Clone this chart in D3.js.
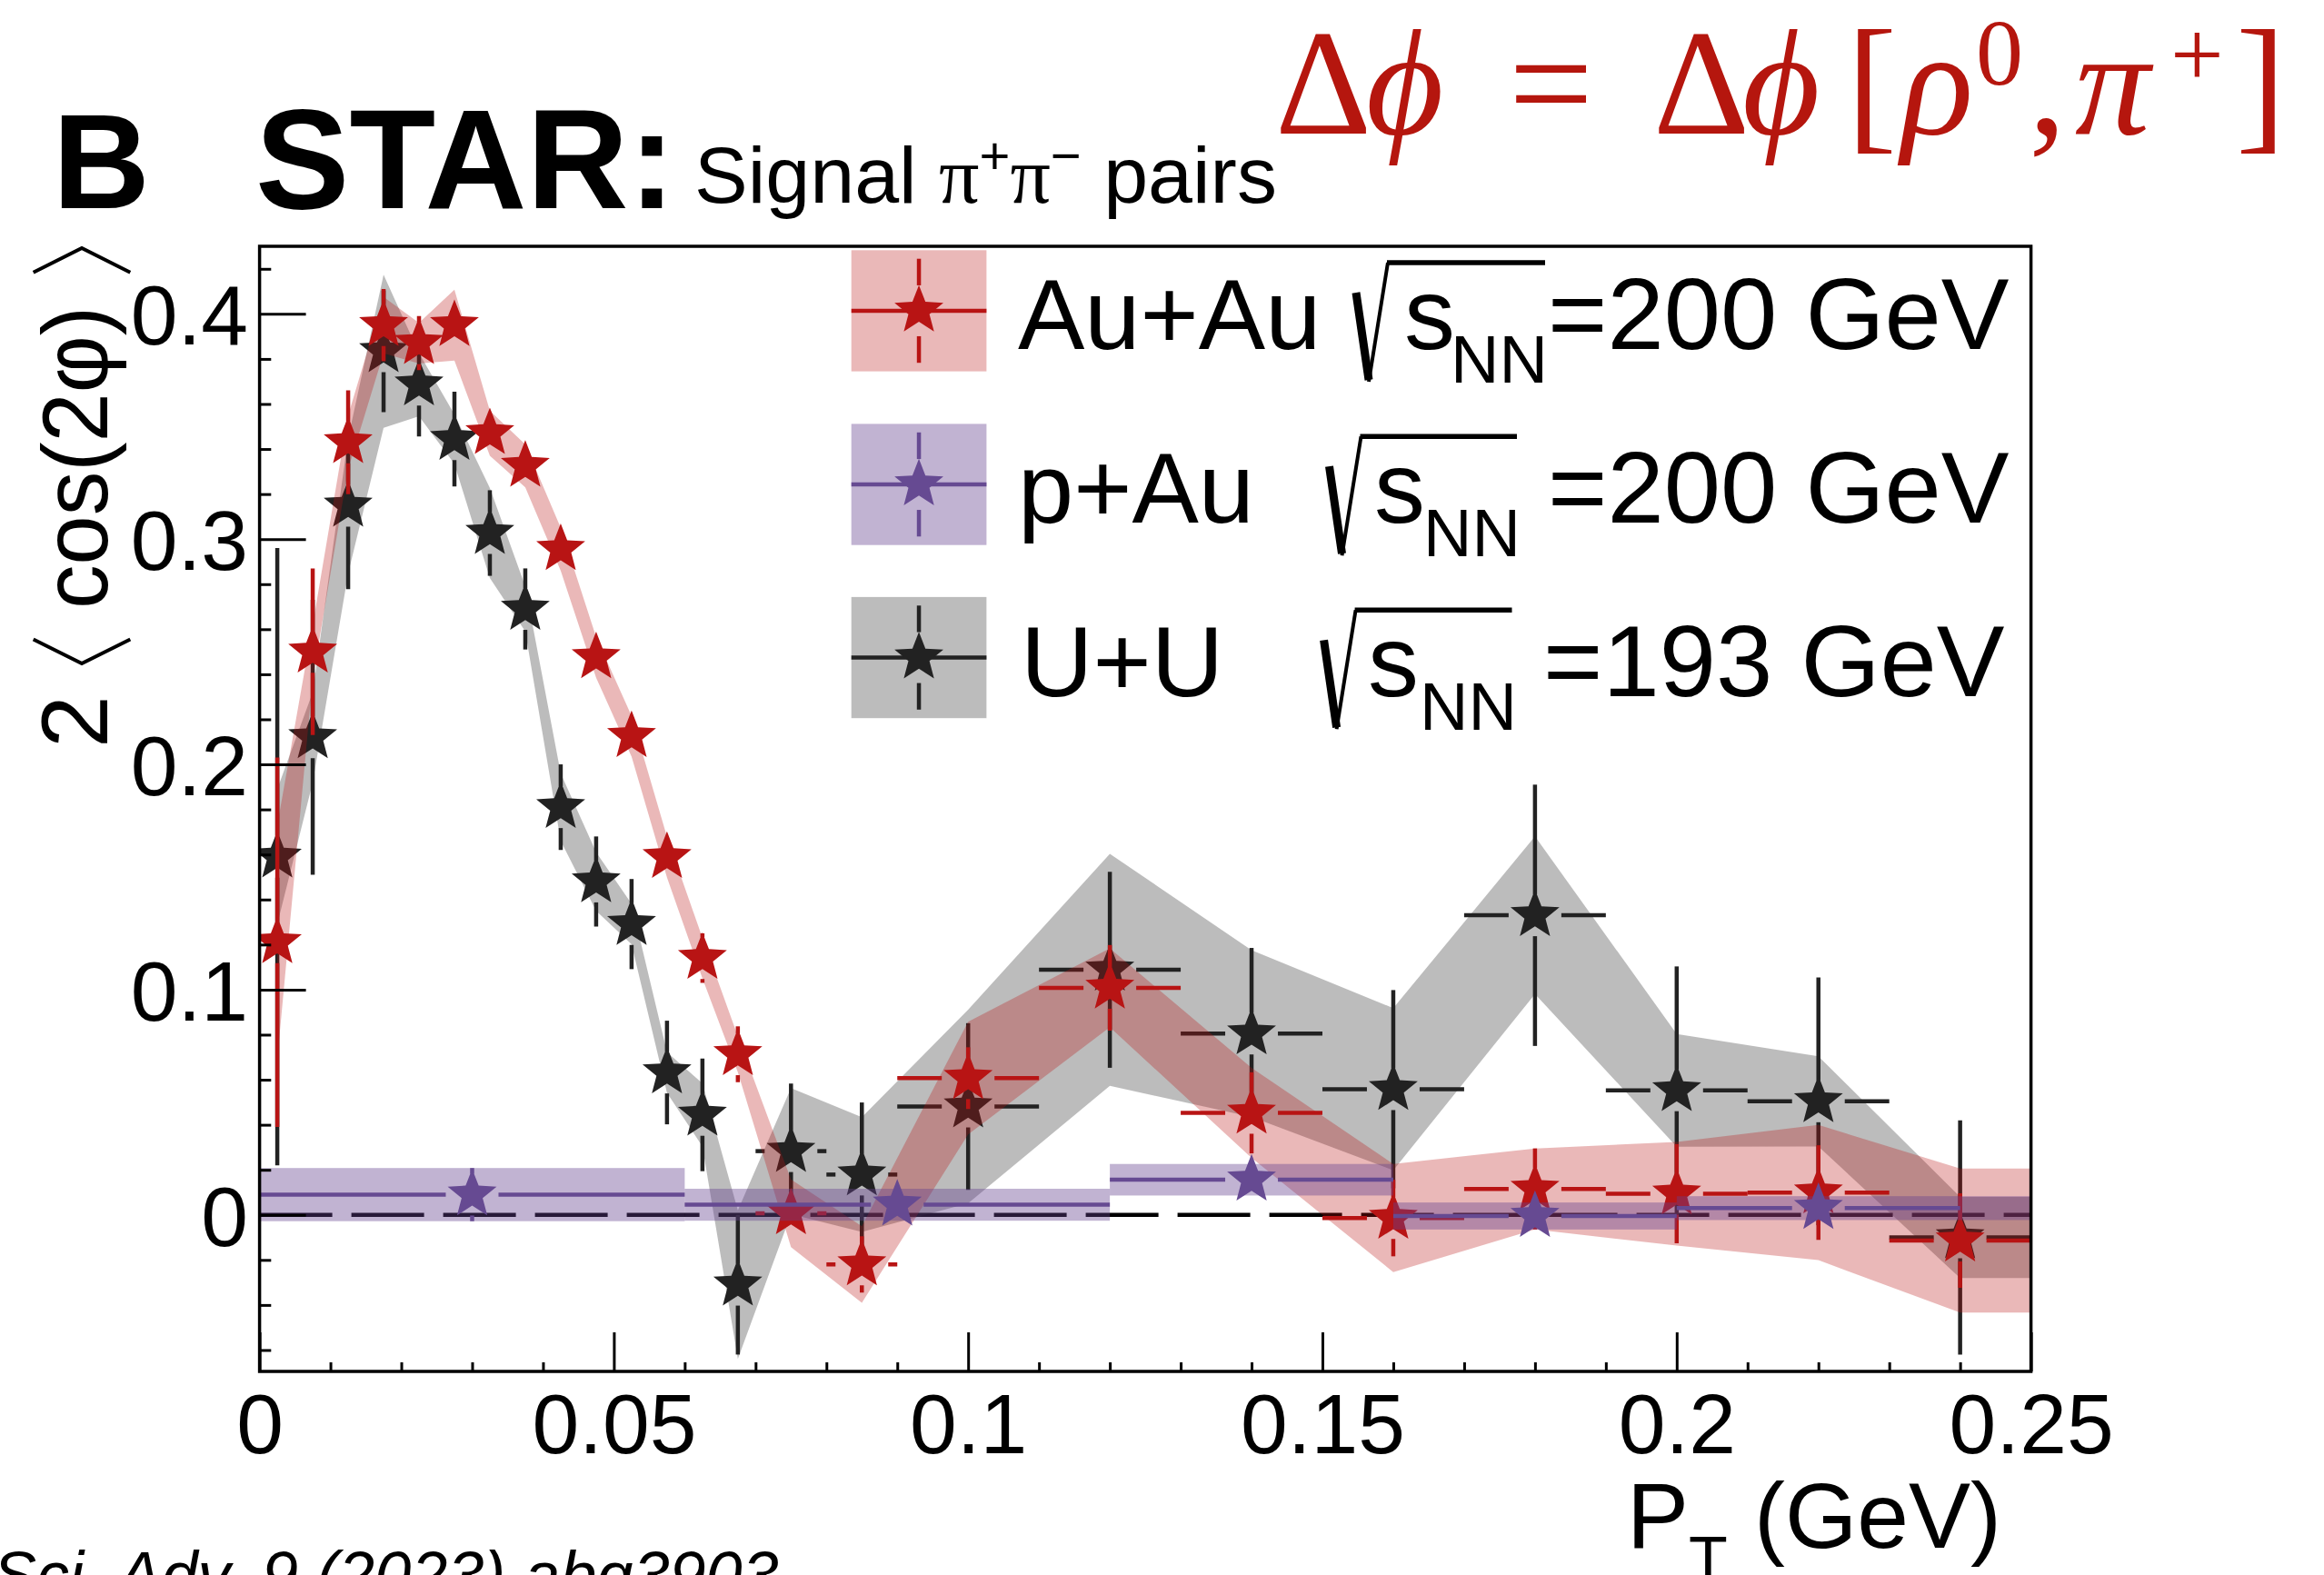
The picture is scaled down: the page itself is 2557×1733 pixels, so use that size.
<!DOCTYPE html>
<html><head><meta charset="utf-8">
<script src="https://cdn.jsdelivr.net/npm/d3@7"></script>
<style>html,body{margin:0;padding:0;background:#fff;} svg{display:block;}</style>
</head><body>
<svg id="chart" width="2557" height="1733"></svg>
<script>
// ---------------- DATA ----------------
const ptCenters = [0.0025,0.0075,0.0125,0.0175,0.0225,0.0275,0.0325,0.0375,0.0425,0.0475,0.0525,0.0575,0.0625,0.0675,0.075,0.085,0.10,0.12,0.14,0.16,0.18,0.20,0.22,0.24];
const ptHalfWidth = [0.0025,0.0025,0.0025,0.0025,0.0025,0.0025,0.0025,0.0025,0.0025,0.0025,0.0025,0.0025,0.0025,0.0025,0.005,0.005,0.01,0.01,0.01,0.01,0.01,0.01,0.01,0.01];

const auauVal  = [0.121,0.250,0.343,0.395,0.387,0.395,0.347,0.3325,0.2955,0.2475,0.2125,0.1588,0.1140,0.0713,0.0007,-0.0220,0.0607,0.1008,0.0453,-0.0014,0.0115,0.0094,0.0099,-0.0114];
const auauStat = [0.082,0.037,0.023,0.016,0.012,0.008,0.008,0.007,0.007,0.008,0.008,0.009,0.011,0.0124,0.009,0.0125,0.0137,0.019,0.018,0.017,0.018,0.022,0.021,0.021];
const auauSys  = [0.052,0.012,0.012,0.0125,0.009,0.0157,0.010,0.0095,0.0095,0.009,0.009,0.009,0.009,0.008,0.015,0.017,0.025,0.0175,0.020,0.024,0.018,0.023,0.030,0.032];

const uuVal  = [0.159,0.212,0.3148,0.3834,0.3686,0.3444,0.3027,0.269,0.181,0.148,0.1291,0.0632,0.0444,-0.031,0.0283,0.0179,0.0481,0.1088,0.0805,0.0558,0.133,0.0553,0.0504,-0.010];
const uuStat = [0.137,0.061,0.037,0.027,0.023,0.021,0.019,0.018,0.019,0.020,0.020,0.023,0.025,0.031,0.030,0.032,0.037,0.0435,0.038,0.044,0.058,0.055,0.055,0.052];
const uuSys  = [0.030,0.020,0.030,0.034,0.014,0.011,0.020,0.010,0.015,0.013,0.009,0.009,0.014,0.033,0.028,0.0255,0.043,0.0515,0.037,0.036,0.035,0.025,0.020,0.018];

const pauCenters = [0.03,0.09,0.14,0.18,0.22];
const pauLow     = [0.00,0.06,0.12,0.16,0.20];
const pauHigh    = [0.06,0.12,0.16,0.20,0.24];
const pauVal  = [0.009,0.0045,0.0156,-0.0005,0.003];
const pauStat = [0.0118,0.007,0.007,0.006,0.006];
const pauSys  = [0.0118,0.0071,0.007,0.006,0.0053];

const xDomain = [0, 0.25];
const yDomain = [-0.0695, 0.43];
const xTickValues = [0,0.05,0.10,0.15,0.20,0.25];
const xTickLabels = ['0','0.05','0.1','0.15','0.2','0.25'];
const xMinorValues = [0.01,0.02,0.03,0.04,0.06,0.07,0.08,0.09,0.11,0.12,0.13,0.14,0.16,0.17,0.18,0.19,0.21,0.22,0.23,0.24];
const yTickValues = [0,0.1,0.2,0.3,0.4];
const yTickLabels = ['0','0.1','0.2','0.3','0.4'];
const yMinorValues = [-0.06,-0.04,-0.02,0.02,0.04,0.06,0.08,0.12,0.14,0.16,0.18,0.22,0.24,0.26,0.28,0.32,0.34,0.36,0.38,0.42];

const legendLabels = ['Au+Au','p+Au','U+U'];
const legendEnergies = ['=200 GeV','=200 GeV','=193 GeV'];

// ---------------- STYLE / LAYOUT ----------------
const W=2557,H=1733;
const M={left:285.6,right:2234.6,top:271,bottom:1509};
const RED='#b81414', RED_BAND='rgba(184,20,20,0.3)';
const BLK='#222222', BLK_BAND='rgba(34,34,34,0.3)';
const PUR='#664a92', PUR_BAND='rgba(100,66,142,0.4)';
const FONT="'Liberation Sans', Arial, Helvetica, sans-serif";
const SERIF="'Liberation Serif','Times New Roman',Times,serif";
const GAPX=29, GAPY=23, EW=4.5;

const svg=d3.select('#chart');
svg.append('rect').attr('width',W).attr('height',H).attr('fill','#fff');

const x=d3.scaleLinear().domain(xDomain).range([M.left,M.right]);
const y=d3.scaleLinear().domain(yDomain).range([M.bottom,M.top]);

svg.append('defs').append('clipPath').attr('id','clip').append('rect')
  .attr('x',M.left).attr('y',M.top).attr('width',M.right-M.left).attr('height',M.bottom-M.top);
const plot=svg.append('g').attr('clip-path','url(#clip)');

// zero dashed line
plot.append('line').attr('x1',x(xDomain[0])).attr('x2',x(xDomain[1])).attr('y1',y(0)).attr('y2',y(0))
  .attr('stroke','#000').attr('stroke-width',4.6).attr('stroke-dasharray','80,21');

// five-point star symbol (ROOT-like full star), size = outer radius^2
const starType={draw(ctx,size){
  const r=Math.sqrt(size), ri=r*0.43;
  for(let i=0;i<10;i++){
    const a=-Math.PI/2+i*Math.PI/5, rr=(i%2)?ri:r;
    const px=rr*Math.cos(a), py=rr*Math.sin(a);
    if(i===0) ctx.moveTo(px,py); else ctx.lineTo(px,py);
  }
  ctx.closePath();
}};
const star=d3.symbol().type(starType).size(28.3*28.3);

function band(g, xs, vals, sys, fill){
  const pts=xs.map((d,i)=>({x:d,lo:vals[i]-sys[i],hi:vals[i]+sys[i]}));
  const last=pts[pts.length-1];
  pts.push({x:xDomain[1],lo:last.lo,hi:last.hi});
  const area=d3.area().x(d=>x(d.x)).y0(d=>y(d.lo)).y1(d=>y(d.hi));
  g.append('path').attr('d',area(pts)).attr('fill',fill).attr('stroke','none');
}
function errors(g, xs, vals, stat, lo, hi, color){
  const segs=[];
  xs.forEach((xv,i)=>{
    const cx=x(xv), cy=y(vals[i]);
    const up=y(vals[i]+stat[i]), dn=y(vals[i]-stat[i]);
    if(cy-up>GAPY) segs.push([cx,cy-GAPY,cx,up]);
    if(dn-cy>GAPY) segs.push([cx,cy+GAPY,cx,dn]);
    const l=x(lo[i]), r=x(hi[i]);
    if(cx-l>GAPX) segs.push([cx-GAPX,cy,l,cy]);
    if(r-cx>GAPX) segs.push([cx+GAPX,cy,r,cy]);
  });
  g.append('g').selectAll('line').data(segs).join('line')
    .attr('x1',d=>d[0]).attr('y1',d=>d[1]).attr('x2',d=>d[2]).attr('y2',d=>d[3])
    .attr('stroke',color).attr('stroke-width',EW);
}
function markers(g, xs, vals, color){
  g.append('g').selectAll('path').data(xs).join('path')
    .attr('d',star).attr('fill',color)
    .attr('transform',(d,i)=>`translate(${x(d)},${y(vals[i])})`);
}
const ptLo=ptCenters.map((d,i)=>d-ptHalfWidth[i]);
const ptHi=ptCenters.map((d,i)=>d+ptHalfWidth[i]);

// U+U
band(plot, ptCenters, uuVal, uuSys, BLK_BAND);
errors(plot, ptCenters, uuVal, uuStat, ptLo, ptHi, BLK);
markers(plot, ptCenters, uuVal, BLK);
// Au+Au
band(plot, ptCenters, auauVal, auauSys, RED_BAND);
errors(plot, ptCenters, auauVal, auauStat, ptLo, ptHi, RED);
markers(plot, ptCenters, auauVal, RED);
// p+Au (boxes)
plot.append('g').selectAll('rect').data(pauCenters).join('rect')
  .attr('x',(d,i)=>x(pauLow[i]))
  .attr('width',(d,i)=>(i===pauCenters.length-1? x(xDomain[1]) : x(pauHigh[i]))-x(pauLow[i]))
  .attr('y',(d,i)=>y(pauVal[i]+pauSys[i]))
  .attr('height',(d,i)=>y(pauVal[i]-pauSys[i])-y(pauVal[i]+pauSys[i]))
  .attr('fill',PUR_BAND);
errors(plot, pauCenters, pauVal, pauStat, pauLow, pauHigh, PUR);
markers(plot, pauCenters, pauVal, PUR);

// ---------------- AXES ----------------
function styleAxis(g){
  g.select('.domain').remove();
  g.selectAll('line').attr('stroke','#000').attr('stroke-width',3);
  g.selectAll('text').attr('font-size',93).attr('font-family',FONT).attr('fill','#000');
}
const gx=svg.append('g').attr('transform',`translate(0,${M.bottom})`)
  .call(d3.axisBottom(x).tickValues(xTickValues).tickFormat((d,i)=>xTickLabels[i]).tickSizeInner(-43).tickSizeOuter(0).tickPadding(24));
styleAxis(gx);
const gxm=svg.append('g').attr('transform',`translate(0,${M.bottom})`)
  .call(d3.axisBottom(x).tickValues(xMinorValues).tickFormat('').tickSizeInner(-10).tickSizeOuter(0));
styleAxis(gxm);
const gy=svg.append('g').attr('transform',`translate(${M.left},0)`)
  .call(d3.axisLeft(y).tickValues(yTickValues).tickFormat((d,i)=>yTickLabels[i]).tickSizeInner(-51).tickSizeOuter(0).tickPadding(12.6));
styleAxis(gy);
gy.selectAll('text').attr('dy','0.36em');
const gym=svg.append('g').attr('transform',`translate(${M.left},0)`)
  .call(d3.axisLeft(y).tickValues(yMinorValues).tickFormat('').tickSizeInner(-12.7).tickSizeOuter(0));
styleAxis(gym);

svg.append('rect').attr('x',M.left).attr('y',M.top).attr('width',M.right-M.left).attr('height',M.bottom-M.top)
  .attr('fill','none').attr('stroke','#000').attr('stroke-width',3.5);

// x axis title
const xt=svg.append('text').attr('font-family',FONT).attr('font-size',102).attr('fill','#000').attr('y',1703);
xt.append('tspan').attr('x',1790).text('P');
xt.append('tspan').attr('font-size',70).attr('dy',37).text('T');
xt.append('tspan').attr('font-size',102).attr('dy',-37).attr('x',1930).text('(GeV)');

// y axis title (rotated)
const yl=svg.append('g').attr('transform','translate(118,820) rotate(-90)');
yl.append('text').attr('x',-3).attr('y',0).attr('font-family',FONT).attr('font-size',104).text('2');
yl.append('path').attr('d','M116.5,-81.3 L90,-28 L116.5,25.3').attr('fill','none').attr('stroke','#000').attr('stroke-width',4);
yl.append('text').attr('x',150).attr('y',0).attr('font-family',FONT).attr('font-size',102)
  .attr('textLength',333).attr('lengthAdjust','spacingAndGlyphs').text('cos(2\u03C6)');
yl.append('path').attr('d','M520.3,-81.3 L547,-28 L520.3,25.3').attr('fill','none').attr('stroke','#000').attr('stroke-width',4);

// ---------------- TITLES ----------------
svg.append('text').attr('x',58).attr('y',229).attr('font-family',FONT).attr('font-weight','bold').attr('font-size',148).text('B');
svg.append('text').attr('x',281).attr('y',229).attr('font-family',FONT).attr('font-weight','bold').attr('font-size',155).text('STAR:');
const sig=svg.append('text').attr('x',764).attr('y',222.7).attr('font-family',FONT).attr('font-size',88);
sig.append('tspan').text('Signal ');
sig.append('tspan').attr('font-family',SERIF).text('\u03C0');
sig.append('tspan').attr('font-size',58).attr('dy',-32).text('+');
sig.append('tspan').attr('font-family',SERIF).attr('font-size',88).attr('dy',32).text('\u03C0');
sig.append('tspan').attr('font-size',58).attr('dy',-32).text('\u2212');
sig.append('tspan').attr('font-size',88).attr('dy',32).text(' pairs');

// red formula
const fr=svg.append('g').attr('fill','#b5160e').attr('font-family',SERIF);
const frPieces=[
  {t:'\u0394',x:1403,y:147,s:165,i:false},
  {t:'\u03D5',x:1503,y:147,s:165,i:true},
  {t:'=',x:1660,y:147,s:165,i:false},
  {t:'\u0394',x:1819,y:147,s:165,i:false},
  {t:'\u03D5',x:1917,y:147,s:165,i:true},
  {t:'[',x:2032,y:147,s:165,i:false},
  {t:'\u03C1',x:2092,y:147,s:165,i:true},
  {t:'0',x:2174,y:93,s:104,i:false},
  {t:',',x:2232,y:147,s:165,i:false},
  {t:'\u03C0',x:2283,y:147,s:165,i:true},
  {t:'+',x:2388,y:95,s:104,i:false},
  {t:']',x:2460,y:147,s:165,i:false}
];
fr.selectAll('text').data(frPieces).join('text')
  .attr('x',d=>d.x).attr('y',d=>d.y).attr('font-size',d=>d.s)
  .attr('font-style',d=>d.i?'italic':'normal').text(d=>d.t);

// citation
svg.append('text').attr('x',-8).attr('y',1758).attr('font-family',FONT).attr('font-style','italic').attr('font-size',72)
  .text('Sci. Adv. 9 (2023) abq3903');

// ---------------- LEGEND ----------------
const legColors=[RED,PUR,BLK], legBands=[RED_BAND,PUR_BAND,BLK_BAND];
const legLayout=[
  {boxY:275.3, base:384,   lx:1120, rx:1490,   rEnd:1700,  sx:1545, nx:1596, ex:1703},
  {boxY:466.4, base:575.2, lx:1120, rx:1460.5, rEnd:1669,  sx:1512, nx:1566, ex:1703},
  {boxY:656.9, base:766.3, lx:1123, rx:1454.6, rEnd:1663.5,sx:1505, nx:1562, ex:1698}
];
const BX=936.7, BW=148.7, BH=133.3;
legendLabels.forEach((lab,i)=>{
  const L=legLayout[i], g=svg.append('g');
  const cx=BX+BW/2, cy=L.boxY+BH/2;
  g.append('rect').attr('x',BX).attr('y',L.boxY).attr('width',BW).attr('height',BH).attr('fill',legBands[i]);
  g.append('line').attr('x1',BX).attr('x2',BX+BW).attr('y1',cy).attr('y2',cy).attr('stroke',legColors[i]).attr('stroke-width',EW);
  g.append('line').attr('x1',cx).attr('x2',cx).attr('y1',L.boxY+9.4).attr('y2',cy-28).attr('stroke',legColors[i]).attr('stroke-width',EW);
  g.append('line').attr('x1',cx).attr('x2',cx).attr('y1',cy+28).attr('y2',L.boxY+BH-9.4).attr('stroke',legColors[i]).attr('stroke-width',EW);
  g.append('path').attr('d',star).attr('fill',legColors[i]).attr('transform',`translate(${cx},${cy})`);
  g.append('text').attr('x',L.lx).attr('y',L.base).attr('font-family',FONT).attr('font-size',110).text(lab);
  // radical
  const r=g.append('g').attr('stroke','#000').attr('fill','none');
  r.append('line').attr('x1',L.rx+2).attr('y1',L.base-62).attr('x2',L.rx+16).attr('y2',L.base+34).attr('stroke-width',9);
  r.append('line').attr('x1',L.rx+16).attr('y1',L.base+36).attr('x2',L.rx+37).attr('y2',L.base-95).attr('stroke-width',4);
  r.append('line').attr('x1',L.rx+36).attr('y1',L.base-95).attr('x2',L.rEnd).attr('y2',L.base-95).attr('stroke-width',5.5);
  g.append('text').attr('x',L.sx).attr('y',L.base).attr('font-family',FONT).attr('font-size',112).text('s');
  g.append('text').attr('x',L.nx).attr('y',L.base+37).attr('font-family',FONT).attr('font-size',74).text('NN');
  g.append('text').attr('x',L.ex).attr('y',L.base).attr('font-family',FONT).attr('font-size',112).text(legendEnergies[i]);
});
</script>
</body></html>
